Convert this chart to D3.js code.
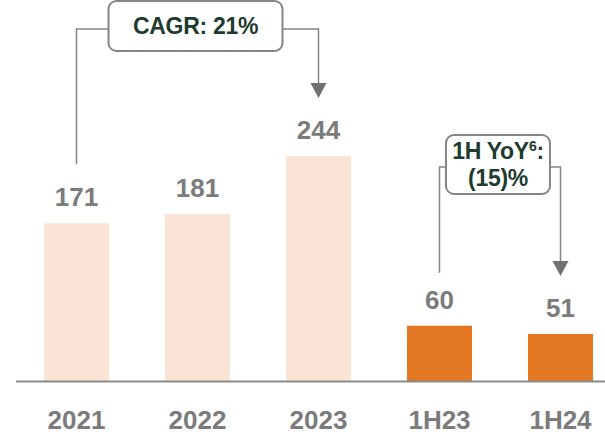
<!DOCTYPE html>
<html>
<head>
<meta charset="utf-8">
<script src="https://cdn.jsdelivr.net/npm/d3@7"></script>
<style>
  body { margin: 0; background: #fff; }
  text { font-family: "Liberation Sans", Arial, sans-serif; font-weight: bold; }
</style>
</head>
<body>
<script>
// chart data
var categories = ["2021", "2022", "2023", "1H23", "1H24"];
var values = [171, 181, 244, 60, 51];
var shade = ["light", "light", "light", "dark", "dark"];

// brackets: from -> to, label lines
var bracketFrom = ["2021", "1H23"];
var bracketTo = ["2023", "1H24"];
var bracketLabels = [["CAGR: 21%"], ["1H YoY|6|:", "(15)%"]];

var W = 605, H = 436;
var base = 381;
var fills = { light: "#f9e4d5", dark: "#e47722" };
var grey = "#7b7b7b";
var lineGrey = "#858585";
var green = "#1d3b2e";

var svg = d3.select("body").append("svg")
    .attr("width", W)
    .attr("height", H);

var x = d3.scaleBand()
    .domain(categories)
    .range([16, 621])
    .paddingInner(0.463)
    .paddingOuter(0.2315);

var y = d3.scaleLinear()
    .domain([0, 244])
    .range([base, 156]);

var rows = categories.map(function(c, i) {
    return { cat: c, v: values[i], s: shade[i] };
});

// bars
svg.selectAll(".bar").data(rows)
  .enter().append("rect")
    .attr("class", "bar")
    .attr("x", function(d) { return x(d.cat); })
    .attr("y", function(d) { return y(d.v); })
    .attr("width", x.bandwidth())
    .attr("height", function(d) { return base - y(d.v); })
    .attr("fill", function(d) { return fills[d.s]; });

// axis line
svg.append("line")
    .attr("x1", 16).attr("x2", W)
    .attr("y1", base + 0.5).attr("y2", base + 0.5)
    .attr("stroke", "#8a8a8a")
    .attr("stroke-width", 2);

// value labels
svg.selectAll(".val").data(rows)
  .enter().append("text")
    .attr("class", "val")
    .attr("x", function(d) { return x(d.cat) + x.bandwidth() / 2; })
    .attr("y", function(d) { return y(d.v) - 17; })
    .attr("text-anchor", "middle")
    .attr("font-size", 26)
    .attr("fill", grey)
    .text(function(d) { return d.v; });

// category labels
svg.selectAll(".cat").data(categories)
  .enter().append("text")
    .attr("class", "cat")
    .attr("x", function(c) { return x(c) + x.bandwidth() / 2; })
    .attr("y", 429)
    .attr("text-anchor", "middle")
    .attr("font-size", 26)
    .attr("fill", grey)
    .text(function(c) { return c; });

// brackets
var boxes = [
    { y0: 1, y1: 51, w: 174, mid: 29, gap: 42, fs: 23 },
    { y0: 135, y1: 194, w: 104, mid: 167, gap: 36, fs: 23 }
];

function cx(c) { return x(c) + x.bandwidth() / 2; }
function valOf(c) { return values[categories.indexOf(c)]; }

bracketFrom.forEach(function(from, i) {
    var to = bracketTo[i];
    var b = boxes[i];
    var xl = cx(from), xr = cx(to);
    var bx = (xl + xr) / 2 - b.w / 2 - 2;
    var leftEnd = y(valOf(from)) - 17 - b.gap;
    var tip = y(valOf(to)) - 17 - 41;

    svg.append("path")
        .attr("d", "M" + xl + "," + leftEnd + "V" + b.mid + "H" + bx)
        .attr("fill", "none")
        .attr("stroke", lineGrey)
        .attr("stroke-width", 1.5);

    svg.append("path")
        .attr("d", "M" + (bx + b.w) + "," + b.mid + "H" + xr + "V" + (tip - 12))
        .attr("fill", "none")
        .attr("stroke", lineGrey)
        .attr("stroke-width", 1.5);

    svg.append("path")
        .attr("d", "M" + (xr - 8) + "," + (tip - 15) + "L" + (xr + 8) + "," + (tip - 15) +
              "L" + xr + "," + tip + "Z")
        .attr("fill", "#707070");

    svg.append("rect")
        .attr("x", bx).attr("y", b.y0)
        .attr("width", b.w).attr("height", b.y1 - b.y0)
        .attr("rx", 8)
        .attr("fill", "#fff")
        .attr("stroke", lineGrey)
        .attr("stroke-width", 2);

    var lines = bracketLabels[i];
    var lh = 27;
    var first = (b.y0 + b.y1) / 2 - (lines.length - 1) * lh / 2 + 8;
    lines.forEach(function(l, k) {
        var t = svg.append("text")
            .attr("x", bx + b.w / 2)
            .attr("y", first + k * lh)
            .attr("text-anchor", "middle")
            .attr("font-size", b.fs)
            .attr("letter-spacing", -0.3)
            .attr("fill", green);
        var parts = l.split("|");
        parts.forEach(function(p, j) {
            if (j % 2 == 1) {
                t.append("tspan").attr("font-size", 14).attr("dy", -8).text(p);
            } else {
                var ts = t.append("tspan").text(p);
                if (j > 0) ts.attr("dy", 8);
            }
        });
    });
});
</script>
</body>
</html>
